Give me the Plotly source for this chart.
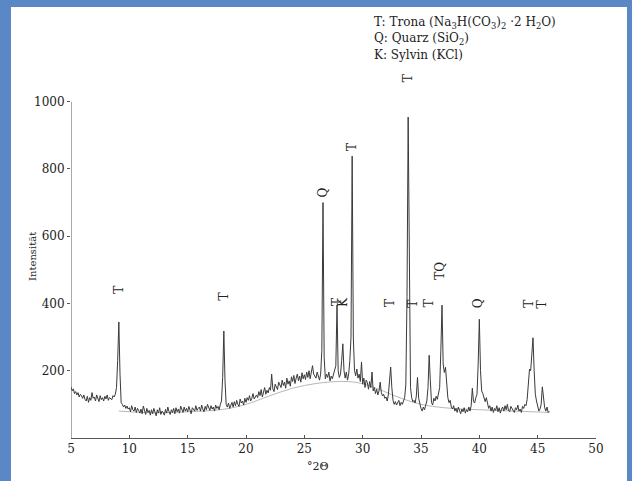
import numpy as np
import plotly.graph_objects as go

# Scan grid (instrument step 0.1 deg 2-theta, 5.0 .. 46.0)
scan_start = 5.0
scan_step = 0.1

intensity = [
    # 5.0 - 5.9
    152, 140, 146, 132, 138, 128, 135, 122, 130, 126,
    # 6
    118, 128, 115, 110, 124, 106, 120, 112, 135, 118,
    # 7
    122, 110, 128, 116, 108, 126, 114, 120, 110, 124,
    # 8
    116, 128, 112, 120, 118, 114, 126, 122, 130, 150,
    # 9
    230, 345, 190, 105, 100, 92, 98, 88, 95, 86,
    # 10
    90, 78, 96, 84, 80, 92, 76, 88, 82, 74,
    # 11
    86, 72, 95, 80, 70, 88, 76, 82, 68, 84,
    # 12
    72, 88, 78, 66, 84, 74, 90, 70, 80, 76,
    # 13
    68, 85, 74, 92, 78, 70, 84, 76, 88, 72,
    # 14
    90, 78, 86, 74, 95, 82, 76, 92, 80, 88,
    # 15
    78, 94, 84, 72, 90, 86, 80, 96, 82, 88,
    # 16
    92, 80, 98, 86, 78, 94, 84, 100, 88, 82,
    # 17
    96, 86, 92, 80, 98, 88, 94, 84, 100, 110,
    # 18
    180, 318, 170, 100, 92, 104, 88, 98, 106, 92,
    # 19
    108, 96, 112, 100, 94, 116, 104, 110, 98, 118,
    # 20
    106, 120, 112, 126, 110, 118, 132, 116, 124, 128,
    # 21
    120, 138, 126, 144, 122, 136, 150, 130, 142, 134,
    # 22
    150, 142, 190, 146, 138, 160, 152, 144, 166, 158,
    # 23
    150, 172, 156, 166, 148, 178, 160, 170, 154, 182,
    # 24
    168, 186, 162, 178, 190, 170, 184, 166, 194, 176,
    # 25
    188, 174, 196, 180, 200, 176, 192, 215, 190, 182,
    # 26
    178, 196, 184, 172, 190, 260, 700, 240, 176, 190,
    # 27
    180, 196, 170, 184, 176, 190, 200, 215, 395, 200,
    # 28
    180, 190, 230, 280, 200, 178, 196, 172, 190, 230,
    # 29
    300, 838, 300, 200, 185, 205, 178, 190, 168, 226,
    # 30
    160, 178, 150, 172, 165, 145, 168, 150, 196, 140,
    # 31
    150, 132, 145, 128, 140, 166, 135, 125, 130, 118,
    # 32
    122, 110, 128, 160, 211, 150, 112, 100, 108, 98,
    # 33
    104, 112, 96, 106, 100, 110, 120, 160, 420, 954,
    # 34
    380, 150, 120, 108, 112, 104, 125, 180, 118, 100,
    # 35
    88, 80, 92, 84, 96, 110, 150, 246, 170, 105,
    # 36
    98, 118, 110, 124, 115, 130, 150, 260, 395, 220,
    # 37
    195, 210, 150, 120, 105, 112, 92, 86, 96, 80,
    # 38
    88, 76, 92, 80, 72, 86, 78, 90, 74, 84,
    # 39
    78, 92, 80, 96, 148, 108, 104, 120, 130, 220,
    # 40
    353, 200, 140, 132, 118, 108, 120, 98, 88, 96,
    # 41
    80, 92, 76, 88, 82, 96, 78, 90, 74, 86,
    # 42
    92, 80, 96, 84, 100, 82, 78, 94, 88, 80,
    # 43
    76, 90, 84, 98, 80, 86, 76, 94, 88, 100,
    # 44
    96, 115, 150, 205, 200, 240, 298, 200, 130, 110,
    # 45
    90, 80, 86, 100, 152, 120, 90, 80, 92, 76,
    # 46.0
    80,
]
two_theta = np.round(scan_start + scan_step * np.arange(len(intensity)), 1)

# Estimated background (amorphous hump)
bg_theta = [9.1, 12, 15, 18, 20, 22, 24, 26, 28, 29.5, 31, 33, 35, 37, 40, 43, 46]
bg_int = [80, 75, 78, 85, 100, 125, 148, 162, 168, 165, 150, 122, 100, 90, 84, 80, 76]

# Peak labels
label_text = ["T", "T", "Q", "T", "K", "T", "T", "T", "T", "T", "TQ", "Q", "T", "T"]
label_x = [9.1, 18.1, 26.6, 27.8, 28.3, 29.1, 32.4, 33.9, 34.35, 35.75, 36.65, 39.95, 44.3, 45.4]
label_y = [440, 420, 730, 404, 404, 866, 400, 1070, 400, 400, 498, 400, 398, 398]

legend_lines = [
    "T: Trona (Na<sub>3</sub>H(CO<sub>3</sub>)<sub>2</sub> ·2 H<sub>2</sub>O)",
    "Q: Quarz (SiO<sub>2</sub>)",
    "K: Sylvin (KCl)",
]

x_ticks = [5, 10, 15, 20, 25, 30, 35, 40, 45, 50]
y_ticks = [200, 400, 600, 800, 1000]

FONT = "DejaVu Serif"
INK = "#3a3a3a"

fig = go.Figure()
fig.add_trace(go.Scatter(x=bg_theta, y=bg_int, mode="lines",
                         line=dict(color="#b8b8b8", width=1, shape="spline"),
                         hoverinfo="skip", showlegend=False))
fig.add_trace(go.Scatter(x=two_theta, y=intensity, mode="lines",
                         line=dict(color=INK, width=1), showlegend=False))

for t, x, y in zip(label_text, label_x, label_y):
    fig.add_annotation(x=x, y=y, text=t, showarrow=False, textangle=-90,
                       font=dict(family=FONT, size=12, color="#222"),
                       xanchor="center", yanchor="middle")

legend_y = [1.122, 1.078, 1.034]
for txt, yy in zip(legend_lines, legend_y):
    fig.add_annotation(x=0.573, y=yy, xref="paper", yref="paper", text=txt,
                       showarrow=False, xanchor="left", yanchor="middle", align="left",
                       font=dict(family=FONT, size=12, color="#222"))

fig.add_annotation(x=-0.072, y=0.49, xref="paper", yref="paper", text="Intensität",
                   showarrow=False, textangle=-90, xanchor="center", yanchor="middle",
                   font=dict(family=FONT, size=10, color="#222"))
fig.add_annotation(x=0.47, y=-0.076, xref="paper", yref="paper", text="°2Θ",
                   showarrow=False, xanchor="center", yanchor="middle",
                   font=dict(family=FONT, size=11, color="#222"))

# white card on blue frame
fig.add_shape(type="rect", xref="paper", yref="paper", x0=-0.1143, x1=1.059,
              y0=-0.2, y1=1.165, fillcolor="white", line=dict(width=0), layer="below")
# left axis line up to 1000
fig.add_shape(type="line", xref="x", yref="y", x0=5, x1=5, y0=0, y1=1000,
              line=dict(color="#555", width=1))

fig.update_layout(
    width=632, height=481,
    margin=dict(l=71, r=36, t=68, b=43),
    paper_bgcolor="#5a88c6", plot_bgcolor="rgba(0,0,0,0)",
    font=dict(family=FONT, size=12, color="#222"),
    showlegend=False,
)
fig.update_xaxes(range=[5, 50], tickvals=x_ticks, ticktext=[str(v) for v in x_ticks],
                 showgrid=False, zeroline=False, showline=True, linecolor="#555",
                 linewidth=1, ticks="inside", ticklen=3, tickcolor="#555",
                 tickfont=dict(family=FONT, size=12, color="#222"))
fig.update_yaxes(range=[0, 1100], tickvals=y_ticks, ticktext=[str(v) for v in y_ticks],
                 showgrid=False, zeroline=False, showline=False,
                 ticks="outside", ticklen=3, tickcolor="#555",
                 tickfont=dict(family=FONT, size=12, color="#222"))

fig.write_html("out.html", config={"displayModeBar": False},
               post_script="document.body.style.margin='0px';")
